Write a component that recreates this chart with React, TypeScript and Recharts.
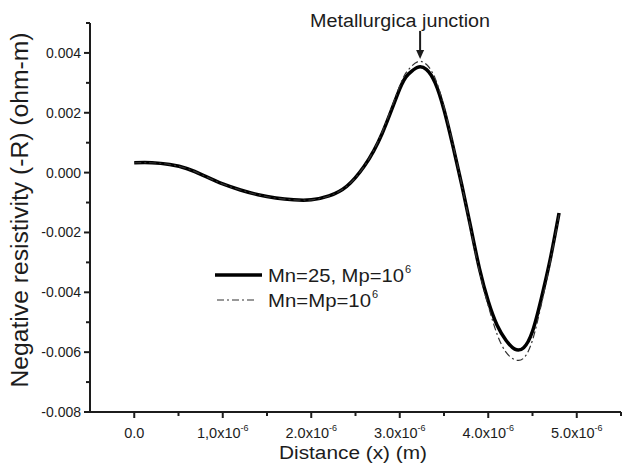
import { LineChart, Line, XAxis, YAxis, Legend, ReferenceDot } from "recharts"

document.body.style.margin = "0"

// distance along the device (m)
const distance = [
  0, 0.2e-6, 0.4e-6, 0.6e-6, 0.8e-6, 1.0e-6, 1.2e-6, 1.4e-6, 1.6e-6, 1.8e-6,
  2.0e-6, 2.2e-6, 2.4e-6, 2.6e-6, 2.8e-6, 3.0e-6, 3.1e-6, 3.2e-6, 3.3e-6, 3.4e-6,
  3.5e-6, 3.6e-6, 3.7e-6, 3.8e-6, 3.9e-6, 4.0e-6, 4.1e-6, 4.2e-6, 4.3e-6, 4.4e-6,
  4.5e-6, 4.6e-6, 4.7e-6, 4.8e-6,
]

// Mn=25, Mp=10^6 (solid)
const mn25 = [
  0.00033, 0.00033, 0.00027, 0.00013, -0.00012, -0.00038, -0.00058, -0.00074, -0.00085, -0.00091,
  -0.00091, -0.00078, -0.00046, 0.00022, 0.0013, 0.0028, 0.0033, 0.00352, 0.00345, 0.003,
  0.0021, 0.0009, -0.0004, -0.0018, -0.0032, -0.0043, -0.0051, -0.0056, -0.0059, -0.00585,
  -0.0053, -0.0042, -0.0029, -0.00135,
]

// Mn=Mp=10^6 (dash-dot)
const mnEqMp = [
  0.00033, 0.00033, 0.00027, 0.00013, -0.00012, -0.00038, -0.00058, -0.00074, -0.00085, -0.00091,
  -0.00091, -0.00078, -0.00046, 0.00022, 0.00135, 0.0029, 0.00345, 0.0037, 0.00362, 0.00315,
  0.0022, 0.00095, -0.0004, -0.00185, -0.0033, -0.00445, -0.0054, -0.006, -0.00625, -0.0062,
  -0.0056, -0.0044, -0.003, -0.0014,
]

const xMajor = [0, 1e-6, 2e-6, 3e-6, 4e-6, 5e-6]
const xMajorLabels = ["0.0", "1,0", "2.0", "3.0", "4.0", "5.0"]
const xMinor = [0.5e-6, 1.5e-6, 2.5e-6, 3.5e-6, 4.5e-6, 5.5e-6]

const yMajor = [-0.008, -0.006, -0.004, -0.002, 0, 0.002, 0.004]
const yMajorLabels = ["-0.008", "-0.006", "-0.004", "-0.002", "0.000", "0.002", "0.004"]
const yMinor = [-0.007, -0.005, -0.003, -0.001, 0.001, 0.003, 0.005]

const chartData = distance.map((x, i) => ({ x, a: mn25[i], b: mnEqMp[i] }))

const FONT = "'Liberation Sans', Arial, sans-serif"
const INK = "#1c1c1c"

function XTick({ x, y, payload }: any) {
  const i = xMajor.indexOf(payload.value)
  const major = i >= 0
  return (
    <g>
      <line x1={x} x2={x} y1={y} y2={y + (major ? 6 : 4)} stroke={INK} strokeWidth={2} />
      {major && (
        <text x={x} y={y + 26} textAnchor="middle" fontSize={14.5} fill={INK} fontFamily={FONT}>
          {xMajorLabels[i]}
          {i > 0 && <tspan>x10</tspan>}
          {i > 0 && (
            <tspan dy={-7} fontSize={9}>
              -6
            </tspan>
          )}
        </text>
      )}
    </g>
  )
}

function YTick({ x, y, payload }: any) {
  const i = yMajor.indexOf(payload.value)
  const major = i >= 0
  return (
    <g>
      <line x1={x} x2={x - (major ? 6 : 4)} y1={y} y2={y} stroke={INK} strokeWidth={2} />
      {major && (
        <text x={x - 9} y={y + 5} textAnchor="end" fontSize={14} fill={INK} fontFamily={FONT}>
          {yMajorLabels[i]}
        </text>
      )}
    </g>
  )
}

function LegendBox() {
  return (
    <svg width={220} height={52} style={{ display: "block" }}>
      <line x1={2} x2={49} y1={13} y2={13} stroke="#000" strokeWidth={3.5} />
      <text x={55} y={20} fontSize={18} fill={INK} fontFamily={FONT} textLength={136} lengthAdjust="spacingAndGlyphs">
        Mn=25, Mp=10
      </text>
      <text x={192} y={11} fontSize={11} fill={INK} fontFamily={FONT}>
        6
      </text>
      <line x1={4} x2={42} y1={38} y2={38} stroke="#333" strokeWidth={1.2} strokeDasharray="7 3 2 3" />
      <text x={55} y={45} fontSize={18} fill={INK} fontFamily={FONT} textLength={103} lengthAdjust="spacingAndGlyphs">
        Mn=Mp=10
      </text>
      <text x={159} y={36} fontSize={11} fill={INK} fontFamily={FONT}>
        6
      </text>
    </svg>
  )
}

function JunctionMarker({ cx, cy }: any) {
  return (
    <g>
      <line x1={cx} x2={cx} y1={cy - 28} y2={cy - 7} stroke={INK} strokeWidth={2} />
      <path d={`M${cx - 4},${cy - 9} L${cx + 4},${cy - 9} L${cx},${cy} Z`} fill={INK} />
      <text
        x={cx - 20}
        y={cy - 32}
        textAnchor="middle"
        fontSize={18}
        fill={INK}
        fontFamily={FONT}
        textLength={180}
        lengthAdjust="spacingAndGlyphs"
      >
        Metallurgica junction
      </text>
    </g>
  )
}

export default function App() {
  return (
    <LineChart width={622} height={468} data={chartData} margin={{ top: 23, right: 1, bottom: 0, left: 0 }}>
      <XAxis
        dataKey="x"
        type="number"
        domain={[-0.5e-6, 5.5e-6]}
        ticks={[...xMajor, ...xMinor]}
        interval={0}
        tickSize={0}
        tickMargin={0}
        tickLine={false}
        tick={<XTick />}
        height={56}
        stroke={INK}
        strokeWidth={2}
        label={{
          content: () => (
            <text
              x={353}
              y={459}
              textAnchor="middle"
              fontSize={18}
              fill={INK}
              fontFamily={FONT}
              textLength={148}
              lengthAdjust="spacingAndGlyphs"
            >
              Distance (x) (m)
            </text>
          ),
        }}
      />
      <YAxis
        type="number"
        domain={[-0.008, 0.005]}
        ticks={[...yMajor, ...yMinor]}
        interval={0}
        tickSize={0}
        tickMargin={0}
        tickLine={false}
        tick={<YTick />}
        width={90}
        stroke={INK}
        strokeWidth={2}
        label={{
          content: () => (
            <text
              x={28}
              y={210}
              transform="rotate(-90 28 210)"
              textAnchor="middle"
              fontSize={23}
              fill={INK}
              fontFamily={FONT}
              textLength={355}
              lengthAdjust="spacingAndGlyphs"
            >
              Negative resistivity (-R) (ohm-m)
            </text>
          ),
        }}
      />
      <Legend
        layout="vertical"
        align="center"
        verticalAlign="middle"
        content={<LegendBox />}
        wrapperStyle={{ position: "absolute", left: 213, top: 262, width: 220 }}
      />
      <Line
        dataKey="a"
        type="natural"
        stroke="#000"
        strokeWidth={3.5}
        dot={false}
        isAnimationActive={false}
      />
      <Line
        dataKey="b"
        type="natural"
        stroke="#333"
        strokeWidth={1.2}
        strokeDasharray="7 3 2 3"
        dot={false}
        isAnimationActive={false}
      />
      <ReferenceDot x={3.23e-6} y={0.0038} ifOverflow="visible" shape={<JunctionMarker />} />
    </LineChart>
  )
}
